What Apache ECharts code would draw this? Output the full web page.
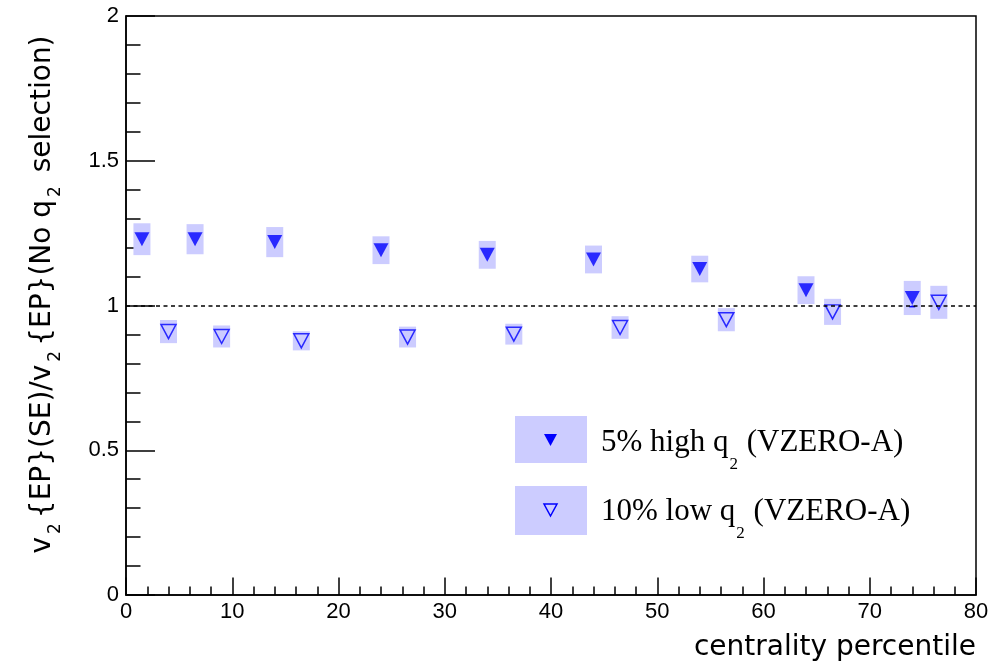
<!DOCTYPE html>
<html><head><meta charset="utf-8">
<script src="https://cdn.jsdelivr.net/npm/echarts@6/dist/echarts.min.js"></script>
<style>html,body{margin:0;padding:0;background:#fff}#c{width:1005px;height:670px}</style>
</head><body><div id="c"></div>
<script>
// 5% high q2 (VZERO-A)
const highX   = [1.5, 6.5, 14, 24, 34, 44, 54, 64, 74];
const highY   = [1.229, 1.229, 1.219, 1.191, 1.175, 1.159, 1.126, 1.053, 1.026];
const highSys = [0.055, 0.052, 0.052, 0.048, 0.048, 0.048, 0.046, 0.048, 0.059];
const highStat= [0.008, 0.008, 0.008, 0.008, 0.008, 0.008, 0.01, 0.015, 0.03];
// 10% low q2 (VZERO-A)
const lowX    = [4, 9, 16.5, 26.5, 36.5, 46.5, 56.5, 66.5, 76.5];
const lowY    = [0.910, 0.893, 0.878, 0.891, 0.901, 0.924, 0.951, 0.978, 1.011];
const lowSys  = [0.040, 0.038, 0.033, 0.036, 0.036, 0.039, 0.040, 0.045, 0.057];
const lowStat = [0.006, 0.006, 0.006, 0.006, 0.006, 0.006, 0.008, 0.012, 0.02];
const xTicks = {min: 0, max: 80, interval: 10};
const yTicks = {min: 0, max: 2, interval: 0.5};
const refLine = 1;
const legendLabels = ['5% high q{s|2} (VZERO-A)', '10% low q{s|2} (VZERO-A)'];

const BLUE = '#0000ff', BOX = '#ccccff';
const MARK_HALF = 7.5;
const chart = echarts.init(document.getElementById('c'), null, {renderer: 'canvas'});

function boxRender(params, api) {
  const x = api.value(0), y = api.value(1), s = api.value(2);
  const t = api.coord([x, y + s]);
  const b = api.coord([x, y - s]);
  const w = 17;
  return {type: 'rect', shape: {x: t[0] - w / 2, y: t[1], width: w, height: b[1] - t[1]},
          style: {fill: BOX}};
}
// statistical error bar, drawn only outside the marker (as ROOT does)
function errRender(params, api) {
  const x = api.value(0), y = api.value(1), s = api.value(2);
  const c = api.coord([x, y]);
  const b = api.coord([x, y - s]);
  const children = [];
  if (b[1] - c[1] > MARK_HALF) {
    children.push({type: 'line', shape: {x1: c[0], y1: c[1] + MARK_HALF, x2: b[0], y2: b[1]}, style: {stroke: BLUE, lineWidth: 1.5}});
    children.push({type: 'line', shape: {x1: b[0] - 3, y1: b[1], x2: b[0] + 3, y2: b[1]}, style: {stroke: BLUE, lineWidth: 1.5}});
  }
  return {type: 'group', children: children};
}

const axisFont = {fontFamily: 'Liberation Sans, Arial, sans-serif', fontSize: 22, color: '#000'};

chart.setOption({
  animation: false,
  backgroundColor: '#fff',
  grid: {left: 126, right: 29, top: 16, bottom: 75, show: true, borderColor: '#000', borderWidth: 1.5, backgroundColor: 'transparent'},
  xAxis: {
    type: 'value', min: xTicks.min, max: xTicks.max, interval: xTicks.interval,
    axisLine: {lineStyle: {color: '#000', width: 1.5}},
    axisTick: {inside: true, length: 17.5, lineStyle: {color: '#000', width: 1.5}},
    minorTick: {show: true, splitNumber: 5, length: 8.5, lineStyle: {color: '#000', width: 1.5}},
    splitLine: {show: false},
    axisLabel: Object.assign({margin: 6}, axisFont),
    name: 'centrality percentile',
    nameLocation: 'end', nameGap: 0,
    nameTextStyle: {fontFamily: 'DejaVu Sans, sans-serif', fontSize: 28, color: '#000',
                    align: 'right', verticalAlign: 'top', padding: [39, 0, 0, 0]}
  },
  yAxis: {
    type: 'value', min: yTicks.min, max: yTicks.max, interval: yTicks.interval,
    axisLine: {lineStyle: {color: '#000', width: 1.5}},
    axisTick: {inside: true, length: 29, lineStyle: {color: '#000', width: 1.5}},
    minorTick: {show: true, splitNumber: 5, length: 14.5, lineStyle: {color: '#000', width: 1.5}},
    splitLine: {show: false},
    axisLabel: Object.assign({margin: 7}, axisFont),
    name: 'v{s|2}{EP}(SE)/v{s|2}{EP}(No q{s|2} selection)',
    nameLocation: 'middle', nameGap: 62, nameRotate: 90,
    nameTextStyle: {fontFamily: 'DejaVu Sans, sans-serif', fontSize: 28, color: '#000', padding: [0, 0, 0, 22],
      rich: {s: {fontFamily: 'DejaVu Sans, sans-serif', fontSize: 17, color: '#000', padding: [26, 5, 0, 3]}}}
  },
  series: [
    {type: 'custom', name: 'highSys', renderItem: boxRender, z: 1,
     data: highX.map((x, i) => [x, highY[i], highSys[i]])},
    {type: 'custom', name: 'lowSys', renderItem: boxRender, z: 1,
     data: lowX.map((x, i) => [x, lowY[i], lowSys[i]])},
    {type: 'custom', name: 'highStat', renderItem: errRender, z: 3,
     data: highX.map((x, i) => [x, highY[i], highStat[i]])},
    {type: 'custom', name: 'lowStat', renderItem: errRender, z: 3,
     data: lowX.map((x, i) => [x, lowY[i], lowStat[i]])},
    {type: 'scatter', name: '5% high q2 (VZERO-A)', z: 4,
     symbol: 'path://M0,0 L20,0 L10,18 Z', symbolSize: [15, 14],
     itemStyle: {color: BLUE},
     data: highX.map((x, i) => [x, highY[i]]),
     markLine: {silent: true, symbol: 'none', label: {show: false},
       lineStyle: {color: '#000', type: [4, 3.5], width: 1.5},
       data: [{yAxis: refLine}]}},
    {type: 'scatter', name: '10% low q2 (VZERO-A)', z: 4,
     symbol: 'path://M0,0 L20,0 L10,18 Z', symbolSize: [15, 14],
     itemStyle: {color: 'transparent', borderColor: BLUE, borderWidth: 1.5},
     data: lowX.map((x, i) => [x, lowY[i]])}
  ],
  graphic: [
    {type: 'rect', left: 515, top: 416, shape: {width: 72, height: 47}, style: {fill: BOX}, z: 10},
    {type: 'rect', left: 515, top: 486, shape: {width: 72, height: 49}, style: {fill: BOX}, z: 10},
    {type: 'polygon', shape: {points: [[544, 434], [557, 434], [550.5, 446]]}, style: {fill: BLUE}, z: 11},
    {type: 'polygon', shape: {points: [[544, 504], [557, 504], [550.5, 516]]}, style: {fill: 'none', stroke: BLUE, lineWidth: 1.5}, z: 11},
    {type: 'text', x: 601, y: 443, z: 11, style: {text: legendLabels[0], fill: '#000',
      font: '31px "Liberation Serif", "Times New Roman", serif', verticalAlign: 'middle',
      rich: {s: {font: '17px "Liberation Serif", serif', fill: '#000', padding: [44, 1, 0, 1]}}}},
    {type: 'text', x: 601, y: 512, z: 11, style: {text: legendLabels[1], fill: '#000',
      font: '31px "Liberation Serif", "Times New Roman", serif', verticalAlign: 'middle',
      rich: {s: {font: '17px "Liberation Serif", serif', fill: '#000', padding: [44, 1, 0, 1]}}}}
  ]
});
</script></body></html>
